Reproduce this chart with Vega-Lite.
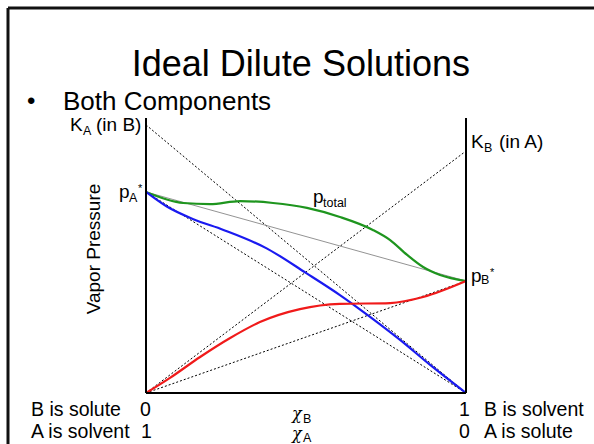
{
  "$schema": "https://vega.github.io/schema/vega-lite/v6.json",
  "width": 594,
  "height": 444,
  "autosize": {"type": "none"},
  "padding": 0,
  "background": "white",
  "view": {"stroke": null},
  "config": {"text": {"font": "Liberation Sans", "color": "black"}},
  "datasets": {
    "curves": [
      {"series": "total", "x": 0, "y": 0.731},
      {"series": "total", "x": 0.116, "y": 0.691},
      {"series": "total", "x": 0.2, "y": 0.687},
      {"series": "total", "x": 0.294, "y": 0.698},
      {"series": "total", "x": 0.397, "y": 0.691},
      {"series": "total", "x": 0.503, "y": 0.673},
      {"series": "total", "x": 0.606, "y": 0.64},
      {"series": "total", "x": 0.709, "y": 0.593},
      {"series": "total", "x": 0.763, "y": 0.556},
      {"series": "total", "x": 0.816, "y": 0.502},
      {"series": "total", "x": 0.866, "y": 0.458},
      {"series": "total", "x": 0.919, "y": 0.429},
      {"series": "total", "x": 1, "y": 0.407},
      {"series": "pA", "x": 0, "y": 0.731},
      {"series": "pA", "x": 0.065, "y": 0.678},
      {"series": "pA", "x": 0.148, "y": 0.632},
      {"series": "pA", "x": 0.242, "y": 0.593},
      {"series": "pA", "x": 0.377, "y": 0.526},
      {"series": "pA", "x": 0.502, "y": 0.435},
      {"series": "pA", "x": 0.606, "y": 0.356},
      {"series": "pA", "x": 0.664, "y": 0.308},
      {"series": "pA", "x": 0.794, "y": 0.193},
      {"series": "pA", "x": 0.888, "y": 0.102},
      {"series": "pA", "x": 1, "y": 0},
      {"series": "pB", "x": 0, "y": 0},
      {"series": "pB", "x": 0.075, "y": 0.055},
      {"series": "pB", "x": 0.169, "y": 0.131},
      {"series": "pB", "x": 0.263, "y": 0.2},
      {"series": "pB", "x": 0.356, "y": 0.258},
      {"series": "pB", "x": 0.481, "y": 0.305},
      {"series": "pB", "x": 0.606, "y": 0.324},
      {"series": "pB", "x": 0.763, "y": 0.327},
      {"series": "pB", "x": 0.866, "y": 0.349},
      {"series": "pB", "x": 1, "y": 0.407}
    ],
    "segments": [
      {"kind": "dotted", "x": 0, "y": 0.975, "x2": 1, "y2": 0},
      {"kind": "dotted", "x": 0, "y": 0, "x2": 1, "y2": 0.88},
      {"kind": "dotted", "x": 0, "y": 0.731, "x2": 1, "y2": 0},
      {"kind": "dotted", "x": 0, "y": 0, "x2": 1, "y2": 0.407},
      {"kind": "ideal", "x": 0, "y": 0.731, "x2": 1, "y2": 0.407},
      {"kind": "axis", "x": 0, "y": 0, "x2": 0, "y2": 1},
      {"kind": "axis", "x": 1, "y": 0, "x2": 1, "y2": 1},
      {"kind": "axis", "x": 0, "y": 0, "x2": 1, "y2": 0},
      {"kind": "frame", "x": -0.43125, "y": 1.4, "x2": 1.45, "y2": 1.4},
      {"kind": "frame", "x": -0.43125, "y": 1.4, "x2": -0.43125, "y2": -0.25}
    ],
    "labels": [
      {"kind": "title", "text": "Ideal Dilute Solutions", "x": 0.484, "y": 1.1527},
      {"kind": "bullet", "text": "•", "x": -0.3719, "y": 1.0291},
      {"kind": "heading", "text": "Both Components", "x": -0.2594, "y": 1.0291},
      {"kind": "label", "text": "K", "x": -0.2375, "y": 0.9527},
      {"kind": "label", "text": "(in B)", "x": -0.1563, "y": 0.9527},
      {"kind": "label", "text": "p", "x": -0.0844, "y": 0.7091},
      {"kind": "label", "text": "K", "x": 1.0156, "y": 0.8909},
      {"kind": "label", "text": "(in A)", "x": 1.1031, "y": 0.8909},
      {"kind": "label", "text": "p", "x": 1.0156, "y": 0.4036},
      {"kind": "label", "text": "p", "x": 0.5219, "y": 0.6927},
      {"kind": "sub", "text": "A", "x": -0.1969, "y": 0.9382},
      {"kind": "sub", "text": "A", "x": -0.0531, "y": 0.6945},
      {"kind": "sub", "text": "B", "x": 1.0562, "y": 0.8764},
      {"kind": "sub", "text": "B", "x": 1.0469, "y": 0.3964},
      {"kind": "sub", "text": "total", "x": 0.5531, "y": 0.6764},
      {"kind": "sub", "text": "B", "x": 0.4906, "y": -0.1091},
      {"kind": "sub", "text": "A", "x": 0.4906, "y": -0.1782},
      {"kind": "sup", "text": "*", "x": -0.025, "y": 0.7309},
      {"kind": "sup", "text": "*", "x": 1.075, "y": 0.4255},
      {"kind": "greek", "text": "χ", "x": 0.45625, "y": -0.0945},
      {"kind": "greek", "text": "χ", "x": 0.45625, "y": -0.1673},
      {"kind": "bottom", "text": "B is solute", "x": -0.3594, "y": -0.0836},
      {"kind": "bottom", "text": "0", "x": -0.01875, "y": -0.0836},
      {"kind": "bottom", "text": "1", "x": 0.9781, "y": -0.0836},
      {"kind": "bottom", "text": "B is solvent", "x": 1.05625, "y": -0.0836},
      {"kind": "bottom", "text": "A is solvent", "x": -0.3594, "y": -0.1636},
      {"kind": "bottom", "text": "1", "x": -0.0156, "y": -0.1636},
      {"kind": "bottom", "text": "0", "x": 0.9781, "y": -0.1636},
      {"kind": "bottom", "text": "A is solute", "x": 1.05625, "y": -0.1636},
      {"kind": "vertical", "text": "Vapor Pressure", "x": -0.14375, "y": 0.5236}
    ]
  },
  "encoding": {
    "x": {"field": "x", "type": "quantitative", "scale": {"domain": [-0.45625, 1.4], "nice": false, "zero": false}, "axis": null},
    "y": {"field": "y", "type": "quantitative", "scale": {"domain": [-0.185455, 1.429091], "nice": false, "zero": false}, "axis": null}
  },
  "layer": [
    {
      "data": {"name": "segments"},
      "transform": [{"filter": "datum.kind === 'frame'"}],
      "mark": {"type": "rule", "stroke": "#111111", "strokeWidth": 3},
      "encoding": {"x2": {"field": "x2"}, "y2": {"field": "y2"}}
    },
    {
      "data": {"name": "segments"},
      "transform": [{"filter": "datum.kind === 'dotted'"}],
      "mark": {"type": "rule", "stroke": "black", "strokeWidth": 1, "strokeDash": [2, 2]},
      "encoding": {"x2": {"field": "x2"}, "y2": {"field": "y2"}}
    },
    {
      "data": {"name": "segments"},
      "transform": [{"filter": "datum.kind === 'ideal'"}],
      "mark": {"type": "rule", "stroke": "#777777", "strokeWidth": 0.8},
      "encoding": {"x2": {"field": "x2"}, "y2": {"field": "y2"}}
    },
    {
      "data": {"name": "curves"},
      "mark": {"type": "line", "interpolate": "monotone", "strokeWidth": 2.2},
      "encoding": {
        "color": {"field": "series", "type": "nominal", "scale": {"domain": ["total", "pA", "pB"], "range": ["#1e951e", "#1a1af0", "#f01a1a"]}, "legend": null},
        "order": {"field": "x", "type": "quantitative"}
      }
    },
    {
      "data": {"name": "segments"},
      "transform": [{"filter": "datum.kind === 'axis'"}],
      "mark": {"type": "rule", "stroke": "black", "strokeWidth": 2},
      "encoding": {"x2": {"field": "x2"}, "y2": {"field": "y2"}}
    },
    {
      "data": {"name": "labels"},
      "transform": [{"filter": "datum.kind === 'title'"}],
      "mark": {"type": "text", "fontSize": 36, "align": "center", "baseline": "alphabetic"},
      "encoding": {"text": {"field": "text"}}
    },
    {
      "data": {"name": "labels"},
      "transform": [{"filter": "datum.kind === 'heading'"}],
      "mark": {"type": "text", "fontSize": 26, "align": "left", "baseline": "alphabetic"},
      "encoding": {"text": {"field": "text"}}
    },
    {
      "data": {"name": "labels"},
      "transform": [{"filter": "datum.kind === 'bullet'"}],
      "mark": {"type": "text", "fontSize": 24, "align": "left", "baseline": "alphabetic", "dy": -1},
      "encoding": {"text": {"field": "text"}}
    },
    {
      "data": {"name": "labels"},
      "transform": [{"filter": "datum.kind === 'label'"}],
      "mark": {"type": "text", "fontSize": 19, "align": "left", "baseline": "alphabetic"},
      "encoding": {"text": {"field": "text"}}
    },
    {
      "data": {"name": "labels"},
      "transform": [{"filter": "datum.kind === 'sub'"}],
      "mark": {"type": "text", "fontSize": 12.5, "align": "left", "baseline": "alphabetic"},
      "encoding": {"text": {"field": "text"}}
    },
    {
      "data": {"name": "labels"},
      "transform": [{"filter": "datum.kind === 'sup'"}],
      "mark": {"type": "text", "fontSize": 11, "align": "left", "baseline": "alphabetic"},
      "encoding": {"text": {"field": "text"}}
    },
    {
      "data": {"name": "labels"},
      "transform": [{"filter": "datum.kind === 'greek'"}],
      "mark": {"type": "text", "font": "DejaVu Serif", "fontStyle": "italic", "fontSize": 16, "align": "left", "baseline": "alphabetic"},
      "encoding": {"text": {"field": "text"}}
    },
    {
      "data": {"name": "labels"},
      "transform": [{"filter": "datum.kind === 'bottom'"}],
      "mark": {"type": "text", "fontSize": 19.5, "align": "left", "baseline": "alphabetic"},
      "encoding": {"text": {"field": "text"}}
    },
    {
      "data": {"name": "labels"},
      "transform": [{"filter": "datum.kind === 'vertical'"}],
      "mark": {"type": "text", "fontSize": 19, "align": "center", "baseline": "alphabetic", "angle": 270},
      "encoding": {"text": {"field": "text"}}
    }
  ]
}
